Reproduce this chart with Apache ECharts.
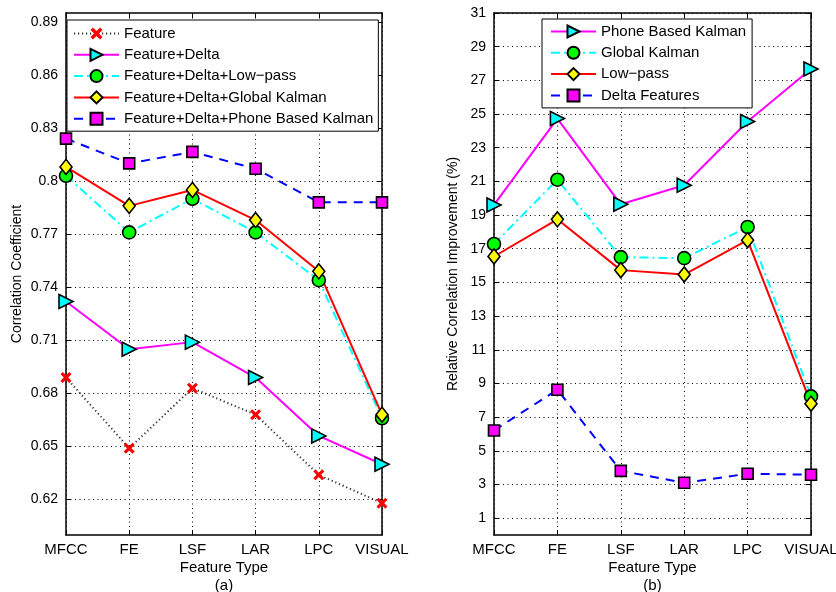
<!DOCTYPE html>
<html>
<head>
<meta charset="utf-8">
<script src="https://cdn.jsdelivr.net/npm/echarts@6/dist/echarts.min.js"></script>
<style>
  html, body { margin: 0; padding: 0; background: #fff; }
  #chart { width: 836px; height: 592px; }
</style>
</head>
<body>
<div id="chart"></div>
<script>
// Feature types along both x axes
const categories = ['MFCC', 'FE', 'LSF', 'LAR', 'LPC', 'VISUAL'];

// (a) correlation coefficient per feature set
const corrTicks = [0.62, 0.65, 0.68, 0.71, 0.74, 0.77, 0.8, 0.83, 0.86, 0.89];
const featureOnly      = [0.689, 0.649, 0.683, 0.668, 0.634, 0.618];
const featDelta        = [0.732, 0.705, 0.709, 0.689, 0.656, 0.640];
const featDeltaLowpass = [0.803, 0.771, 0.790, 0.771, 0.744, 0.666];
const featDeltaGlobal  = [0.808, 0.786, 0.795, 0.778, 0.749, 0.668];
const featDeltaPhone   = [0.824, 0.810, 0.8165, 0.807, 0.788, 0.788];

// (b) relative correlation improvement (%)
const improvTicks = [1, 3, 5, 7, 9, 11, 13, 15, 17, 19, 21, 23, 25, 27, 29, 31];
const phoneKalman   = [19.6, 24.73, 19.64, 20.77, 24.56, 27.67];
const globalKalman  = [17.28, 21.1, 16.5, 16.44, 18.29, 8.23];
const lowPass       = [16.54, 18.75, 15.73, 15.47, 17.51, 7.8];
const deltaFeatures = [6.21, 8.63, 3.81, 3.1, 3.64, 3.58];

const FONT = "'Liberation Sans', Arial, Helvetica, sans-serif";

const SYM_X = 'path://M2,0 L5,3 L8,0 L10,2 L7,5 L10,8 L8,10 L5,7 L2,10 L0,8 L3,5 L0,2 Z';
const SYM_TRI_RIGHT = 'path://M0,0 L10,5 L0,10 Z';

const markers = {
  x:       { symbol: SYM_X, symbolSize: 11, itemStyle: { color: '#ff0000', borderWidth: 0 } },
  tri:     { symbol: SYM_TRI_RIGHT, symbolSize: 14, itemStyle: { color: '#00ffff', borderColor: '#000', borderWidth: 1.6 } },
  circle:  { symbol: 'circle', symbolSize: 13, itemStyle: { color: '#00ff00', borderColor: '#000', borderWidth: 1.6 } },
  diamond: { symbol: 'diamond', symbolSize: [12, 15], itemStyle: { color: '#ffff00', borderColor: '#000', borderWidth: 1.6 } },
  square:  { symbol: 'rect', symbolSize: 11, itemStyle: { color: '#ff00ff', borderColor: '#000', borderWidth: 1.6 } }
};

const lines = {
  dotted:  { color: '#333', width: 2, type: [1.2, 2.8] },
  magenta: { color: '#ff00ff', width: 2, type: 'solid' },
  cyanDD:  { color: '#00ffff', width: 2, type: [9, 4, 2, 4] },
  red:     { color: '#ff0000', width: 2, type: 'solid' },
  blueDash:{ color: '#0000ff', width: 2, type: [9, 7] }
};

function makeSeries(name, data, marker, line, gi) {
  return Object.assign({
    name: name,
    type: 'line',
    data: data,
    xAxisIndex: gi * 2,
    yAxisIndex: gi * 2,
    clip: false,
    lineStyle: line,
    emphasis: { disabled: true },
    animation: false
  }, markers[marker]);
}

const gridLine = { show: true, lineStyle: { color: '#000', width: 1, type: [1, 3.5] } };
const axisLineStyle = { show: true, onZero: false, lineStyle: { color: '#000', width: 1.5 } };

function xAxes(gi) {
  const base = {
    type: 'category', data: categories, boundaryGap: false, gridIndex: gi,
    axisLine: axisLineStyle,
    axisTick: { show: true, inside: true, length: 5, lineStyle: { color: '#000', width: 1 } }
  };
  return [
    Object.assign({}, base, {
      position: 'bottom',
      axisLabel: { color: '#000', fontSize: 15, fontFamily: FONT, margin: 7, interval: 0 },
      splitLine: gridLine,
      name: 'Feature Type\n' + (gi === 0 ? '(a)' : '(b)'),
      nameLocation: 'middle', nameGap: 24, nameMoveOverlap: false,
      nameTextStyle: { color: '#000', fontSize: 15, fontFamily: FONT, lineHeight: 18 }
    }),
    Object.assign({}, base, { position: 'top', axisLabel: { show: false }, splitLine: { show: false } })
  ];
}

function yAxes(gi, min, max, ticks, title, gap) {
  const base = {
    type: 'value', min: min, max: max, gridIndex: gi,
    axisLine: axisLineStyle,
    axisTick: { show: true, inside: true, length: 5, customValues: ticks, lineStyle: { color: '#000', width: 1 } }
  };
  return [
    Object.assign({}, base, {
      position: 'left',
      axisLabel: { color: '#000', fontSize: 14, fontFamily: FONT, margin: 8, customValues: ticks },
      splitLine: gridLine,
      name: title, nameLocation: 'middle', nameGap: gap, nameRotate: 90, nameMoveOverlap: false,
      nameTextStyle: { color: '#000', fontSize: 14, fontFamily: FONT }
    }),
    Object.assign({}, base, { position: 'right', axisLabel: { show: false }, splitLine: { show: false } })
  ];
}

const legendBase = {
  orient: 'vertical',
  align: 'left',
  itemWidth: 45,
  itemHeight: 15,
  itemGap: 6.3,
  backgroundColor: '#fff',
  borderColor: '#000',
  borderWidth: 1,
  borderRadius: 0,
  selectedMode: false,
  textStyle: { color: '#000', fontSize: 15, fontFamily: FONT }
};

const option = {
  backgroundColor: '#fff',
  animation: false,
  grid: [
    { left: 66, right: 454, top: 13, bottom: 57, outerBoundsMode: 'none', containLabel: false },
    { left: 494, right: 25, top: 13, bottom: 57, outerBoundsMode: 'none', containLabel: false }
  ],
  xAxis: xAxes(0).concat(xAxes(1)),
  yAxis: yAxes(0, 0.6, 0.895, corrTicks, 'Correlation Coefficient', 42)
    .concat(yAxes(1, 0, 31, improvTicks, 'Relative Correlation Improvement (%)', 34)),
  legend: [
    Object.assign({}, legendBase, {
      left: 67, top: 20, padding: [6, 5, 5, 6],
      data: ['Feature', 'Feature+Delta', 'Feature+Delta+Low\u2212pass',
             'Feature+Delta+Global Kalman', 'Feature+Delta+Phone Based Kalman']
    }),
    Object.assign({}, legendBase, {
      left: 542, top: 19, padding: [5, 6, 5, 8],
      data: ['Phone Based Kalman', 'Global Kalman', 'Low\u2212pass', 'Delta Features']
    })
  ],
  series: [
    makeSeries('Feature', featureOnly, 'x', lines.dotted, 0),
    makeSeries('Feature+Delta', featDelta, 'tri', lines.magenta, 0),
    makeSeries('Feature+Delta+Low\u2212pass', featDeltaLowpass, 'circle', lines.cyanDD, 0),
    makeSeries('Feature+Delta+Global Kalman', featDeltaGlobal, 'diamond', lines.red, 0),
    makeSeries('Feature+Delta+Phone Based Kalman', featDeltaPhone, 'square', lines.blueDash, 0),

    makeSeries('Phone Based Kalman', phoneKalman, 'tri', lines.magenta, 1),
    makeSeries('Global Kalman', globalKalman, 'circle', lines.cyanDD, 1),
    makeSeries('Low\u2212pass', lowPass, 'diamond', lines.red, 1),
    makeSeries('Delta Features', deltaFeatures, 'square', lines.blueDash, 1)
  ]
};

const chart = echarts.init(document.getElementById('chart'), null, { renderer: 'canvas' });
chart.setOption(option);
</script>
</body>
</html>
